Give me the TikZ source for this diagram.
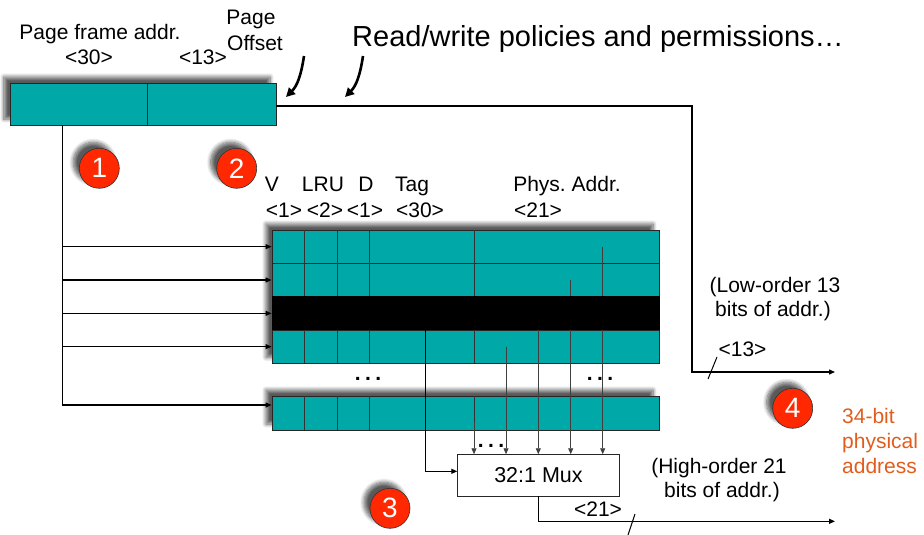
\documentclass[tikz,border=0pt]{standalone}
\usepackage{fontspec}
\setmainfont{Liberation Sans}
\usetikzlibrary{arrows.meta,shadows.blur}
\definecolor{cellteal}{RGB}{0,168,168}
\definecolor{badgered}{RGB}{255,40,0}
\definecolor{noteorange}{RGB}{226,92,28}
\frenchspacing
\begin{document}
\begin{tikzpicture}[x=1pt,y=-1pt,
  lbl/.style={font=\fontsize{21}{24}\selectfont, inner sep=0pt, anchor=base},
  softshadow/.style={blur shadow={shadow xshift=-6pt, shadow yshift=6pt,
      shadow blur radius=4pt, shadow blur steps=8, shadow opacity=65}},
  field/.style={draw=black!85, line width=0.8pt, fill=cellteal, inner sep=0pt},
  rowbox/.style={field, minimum width=387pt, minimum height=33.33pt},
  backing/.style={fill=cellteal, inner sep=0pt, softshadow},
  badge/.style={circle, fill=badgered, draw=black!80, line width=0.6pt,
      minimum size=40pt, inner sep=0pt, text=white,
      font=\fontsize{28}{28}\selectfont, softshadow},
  wire/.style={line width=1.3pt, -{Triangle[length=6pt,width=5pt]}},
  sig/.style={line width=0.8pt, draw=black!75, -{Triangle[length=6pt,width=5pt]}},
  gridline/.style={draw=black!80, line width=0.8pt},
  callout/.style={line width=2.6pt, -{Triangle[length=9pt,width=9pt]}},
  dots/.style={font=\fontsize{21}{24}\selectfont\bfseries, inner sep=0pt}]
\useasboundingbox (0,0) rectangle (924,535);

% ---- virtual address register ----
\node[backing, minimum width=266pt, minimum height=42pt] (va) at (143,104) {};
\node[field, minimum width=137pt, minimum height=42pt] (pfa) at (78.5,104) {};
\node[field, minimum width=129pt, minimum height=42pt] (off) at (211.5,104) {};

\node[lbl] (tpfa) at (100,40) {Page frame addr.};
\node[lbl] (t30) at (89,65) {<30>};
\node[lbl] (t13) at (203,65) {<13>};
\node[lbl] (tpage) at (251,25) {Page};
\node[lbl] (toff) at (255,51) {Offset};
\node[lbl, anchor=base west, font=\fontsize{29}{32}\selectfont] (trw) at (352,47)
  {Read/write policies and permissions…};

\coordinate (c1s) at (304,56);
\coordinate (c1e) at (286,97);
\coordinate (c2s) at (363,56);
\coordinate (c2e) at (345,97);
\draw[callout] (c1s) .. controls (301,76) and (297,86) .. (c1e);
\draw[callout] (c2s) .. controls (360,76) and (356,86) .. (c2e);

% ---- column headings ----
\node[lbl] (hv) at (272,191) {V};
\node[lbl] (hlru) at (323,191) {LRU};
\node[lbl] (hd) at (366,191) {D};
\node[lbl] (htag) at (412,191) {Tag};
\node[lbl] (hpa) at (567,191) {Phys. Addr.};
\node[lbl] (w1) at (284,217) {<1>};
\node[lbl] (w2) at (325,217) {<2>};
\node[lbl] (w3) at (365,217) {<1>};
\node[lbl] (w30) at (420,217) {<30>};
\node[lbl] (w21) at (538,217) {<21>};

% ---- TLB entries ----
\node[backing, minimum width=387pt, minimum height=133.33pt] (tbl) at (465.5,296.67) {};
\node[rowbox] (r1) at (465.5,246.67) {};
\node[rowbox] (r2) at (465.5,280) {};
\node[rowbox, fill=black, draw=black] (r3) at (465.5,313.33) {};
\node[rowbox] (r4) at (465.5,346.67) {};
\node[backing, minimum width=387pt, minimum height=34pt] (r5back) at (465.5,413) {};
\node[rowbox, minimum height=34pt] (r5) at (465.5,413) {};
\foreach \cx in {304.3,337.3,369.3,474}{
  \draw[gridline] (\cx,230) -- (\cx,363.33);
  \draw[gridline] (\cx,396) -- (\cx,430);
}

\node[dots] (dl) at (368,379) {.\hspace{4.5pt}.\hspace{4.5pt}.};
\node[dots] (dr) at (600,379) {.\hspace{4.5pt}.\hspace{4.5pt}.};

% ---- multiplexer ----
\node[draw=black!85, line width=0.8pt, fill=white, minimum width=161.6pt,
      minimum height=41.3pt, inner sep=0pt, font=\fontsize{21.5}{24}\selectfont]
  (mux) at (538.5,475.3) {32:1 Mux};
\node[dots] (dm) at (491,446) {.\hspace{4.5pt}.\hspace{4.5pt}.};

% ---- entry outputs into the mux ----
\coordinate (s1) at (602.7,246.67);
\coordinate (s2) at (570.7,280);
\coordinate (s3) at (538.3,313.33);
\coordinate (s4) at (506,346.67);
\coordinate (s5) at (474,421.7);
\coordinate (stag) at (425.7,313.33);
\draw[sig] (s1) -- (s1 |- mux.north);
\draw[sig] (s2) -- (s2 |- mux.north);
\draw[sig] (s3) -- (s3 |- mux.north);
\draw[sig] (s4) -- (s4 |- mux.north);
\draw[sig] (s5) -- (s5 |- mux.north);
\draw[line width=1.1pt, -{Triangle[length=6pt,width=5pt]}] (stag) |- ([yshift=4pt]mux.west);
% the black row hides the lines that pass under it
\fill[black] (r3.north west) rectangle (r3.south east);

% ---- address bus into the entries ----
\coordinate (bt) at ([xshift=-16pt]pfa.south);
\draw[wire] (bt) |- ([yshift=8pt]r5.west);
\draw[wire] (bt |- r1.west) -- (r1.west);
\draw[wire] (bt |- r2.west) -- (r2.west);
\draw[wire] (bt |- r3.west) -- (r3.west);
\draw[wire] (bt |- r4.west) -- (r4.west);

% ---- physical address outputs ----
\coordinate (lobend) at (692,372);
\coordinate (lo) at (835,372);
\coordinate (hi) at (835,521.3);
\draw[wire] ([yshift=-2pt]off.east) -| (lobend) -- (lo);
\draw[line width=1pt] (717,357) -- (708,379);
\node[lbl] (l13) at (742.5,356) {<13>};
\node[lbl] (lowa) at (775,292) {(Low-order 13};
\node[lbl] (lowb) at (773,316) {bits of addr.)};

\draw[wire] (mux.south) |- (hi);
\draw[line width=1pt] (635,514) -- (628,535);
\node[lbl] (l21) at (598,516) {<21>};
\node[lbl] (higha) at (719,473) {(High-order 21};
\node[lbl] (highb) at (722,497) {bits of addr.)};

\node[lbl, anchor=base west, text=noteorange] (pa1) at (842,423) {34-bit};
\node[lbl, anchor=base west, text=noteorange] (pa2) at (842,448) {physical};
\node[lbl, anchor=base west, text=noteorange] (pa3) at (842,473) {address};

% ---- step badges ----
\node[badge] (b1) at (99.3,168.3) {1};
\node[badge] (b2) at (236.7,168.3) {2};
\node[badge] (b3) at (390,508.3) {3};
\node[badge] (b4) at (792.7,408.3) {4};
\end{tikzpicture}
\end{document}
